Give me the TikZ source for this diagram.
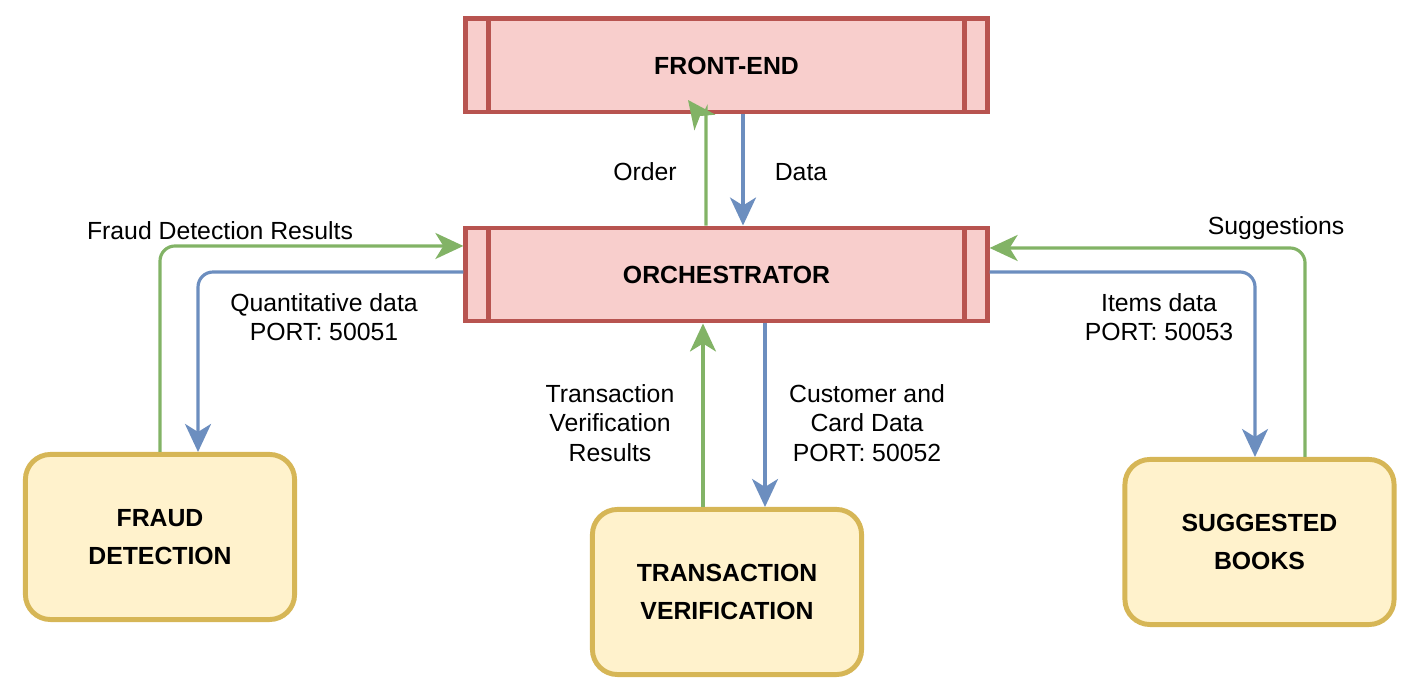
\documentclass[tikz,border=0pt]{standalone}
\usepackage{fontspec}
\setmainfont{Liberation Sans}
\usepackage{tikz}
\usetikzlibrary{positioning,calc,arrows.meta}
\definecolor{procred}{HTML}{B85450}
\definecolor{procfill}{HTML}{F8CECC}
\definecolor{svcline}{HTML}{D6B656}
\definecolor{svcfill}{HTML}{FFF2CC}
\definecolor{resgreen}{HTML}{82B366}
\definecolor{reqblue}{HTML}{6C8EBF}
\tikzset{
  proc/.style   = {draw=procred, fill=procfill, line width=1.4pt, minimum width=5.21cm, minimum height=0.93cm,
                   font=\fontsize{7.05}{8.5}\selectfont\bfseries, inner sep=0pt,
                   path picture={\draw[procred, line width=1.4pt]
                     ([xshift=2.3mm]path picture bounding box.north west) -- ([xshift=2.3mm]path picture bounding box.south west)
                     ([xshift=-2.3mm]path picture bounding box.north east) -- ([xshift=-2.3mm]path picture bounding box.south east);}},
  svc/.style    = {draw=svcline, fill=svcfill, rounded corners=0.25cm, line width=1.4pt, minimum width=2.69cm, minimum height=1.65cm,
                   align=center, font=\fontsize{7.05}{10.8}\selectfont\bfseries, inner sep=0pt},
  reqarr/.style = {draw=reqblue, line width=0.9pt, rounded corners=1.5mm, -{Stealth[length=2.8mm,width=2.6mm,inset=0.8mm]}},
  resarr/.style = {draw=resgreen, line width=0.9pt, rounded corners=1.5mm, -{Stealth[length=2.8mm,width=2.6mm,inset=0.8mm]}},
  lbl/.style    = {font=\fontsize{7.05}{8.4}\selectfont, align=center, inner sep=0pt},
}
\begin{document}
\begin{tikzpicture}[x=0.01cm,y=-0.01cm]
  \useasboundingbox (0,0) rectangle (1409,692);

  % ----- services -----
  \node[proc] (fe)    at (726.5,65.5)  {FRONT-END};
  \node[proc] (orch)  at (726.5,274.5) {ORCHESTRATOR};
  \node[svc]  (fraud) at (160,537)     {FRAUD\\DETECTION};
  \node[svc]  (tv)    at (727,592)     {TRANSACTION\\VERIFICATION};
  \node[svc]  (sb)    at (1259.5,542)  {SUGGESTED\\BOOKS};

  % ----- front-end <-> orchestrator -----
  \coordinate (ordtip) at (688,100);
  \draw[reqarr] ([xshift=1.65mm]fe.south) -- ([xshift=1.65mm]orch.north);
  \draw[resarr] ([xshift=-2.05mm]orch.north) -- (706,126) .. controls (706,117) and (697,112) .. (ordtip);
  \node[lbl] (lorder) at (645,172) {Order};
  \node[lbl] (ldata)  at (801,172) {Data};

  % ----- fraud detection -----
  \draw[resarr] (fraud.north) |- ([yshift=2.85mm]orch.west);
  \draw[reqarr] ([yshift=0.25mm]orch.west) -| ([xshift=3.8mm]fraud.north);
  \node[lbl] (lfraud) at (220,231) {Fraud Detection Results};
  \node[lbl] (lquant) at (324,317) {Quantitative data\\PORT: 50051};

  % ----- transaction verification -----
  \draw[resarr] ([xshift=-2.4mm]tv.north) -- ([xshift=-2.4mm]tv.north |- orch.south);
  \draw[reqarr] ([xshift=3.85mm]orch.south) -- ([xshift=3.85mm]orch.south |- tv.north);
  \node[lbl] (ltvres) at (610,423) {Transaction\\Verification\\Results};
  \node[lbl] (lcust)  at (867,423) {Customer and\\Card Data\\PORT: 50052};

  % ----- suggested books -----
  \draw[resarr] ([xshift=4.55mm]sb.north) |- ([yshift=2.65mm]orch.east);
  \draw[reqarr] ([yshift=0.25mm]orch.east) -| ([xshift=-0.45mm]sb.north);
  \node[lbl] (lsugg)  at (1276,228) {Suggestions};
  \node[lbl] (litems) at (1159,317) {Items data\\PORT: 50053};
\end{tikzpicture}
\end{document}
